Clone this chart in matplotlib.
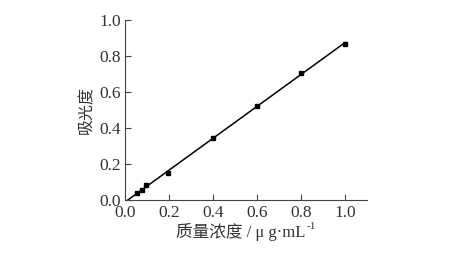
import numpy as np
import matplotlib
matplotlib.use('Agg')
import matplotlib.pyplot as plt

# standard curve data
conc = [0.056, 0.077, 0.097, 0.196, 0.40, 0.598, 0.797, 1.0]
absorb = [0.040, 0.053, 0.082, 0.150, 0.345, 0.522, 0.705, 0.866]
xticks = [0.0, 0.2, 0.4, 0.6, 0.8, 1.0]
yticks = [0.0, 0.2, 0.4, 0.6, 0.8, 1.0]

fit = np.polyfit(conc, absorb, 1)
xfit = np.array([0.0, 1.0])
yfit = np.polyval(fit, xfit)

fam = ['Liberation Serif', 'Noto Sans CJK SC']

fig = plt.figure(figsize=(4.5, 2.56), dpi=100)
ax = fig.add_axes([0.278, 0.219, 0.538, 0.703])
ax.plot(xfit, yfit, color='k', lw=1.1)
ax.plot(conc, absorb, 's', color='k', ms=2.8)
ax.set_xlim(0, 1.1)
ax.set_ylim(0, 1.0)
ax.set_xticks(xticks)
ax.set_yticks(yticks)
ax.set_xticklabels(['%.1f' % t for t in xticks], family='Liberation Serif', fontsize=12.5, color='#333333')
ax.set_yticklabels(['%.1f' % t for t in yticks], family='Liberation Serif', fontsize=12.5, color='#333333')
ax.tick_params(direction='in', length=4, width=0.8, color='#444444')
ax.tick_params(axis='x', pad=4)
ax.tick_params(axis='y', pad=3)
for s in ['top', 'right']:
    ax.spines[s].set_visible(False)
for s in ['left', 'bottom']:
    ax.spines[s].set_linewidth(0.8)
    ax.spines[s].set_color('#444444')

ax.set_ylabel('吸光度', family=['Noto Sans CJK SC', 'DejaVu Sans'], fontsize=11.5, color='#333333', labelpad=3)

# x label: main text + superscript as a separate piece (mathtext would drop the CJK fallback)
main = fig.text(0.535, 0.093, '质量浓度 / μ g·mL', family=fam, fontsize=12,
                color='#333333', ha='center', va='center')
fig.canvas.draw()
bb = main.get_window_extent()
fig.text(bb.x1 / fig.bbox.width + 0.002, (bb.y1 - 3) / fig.bbox.height, '-1',
         family='Liberation Serif', fontsize=8, color='#333333', ha='left', va='center')

fig.savefig('out.png', dpi=100)
